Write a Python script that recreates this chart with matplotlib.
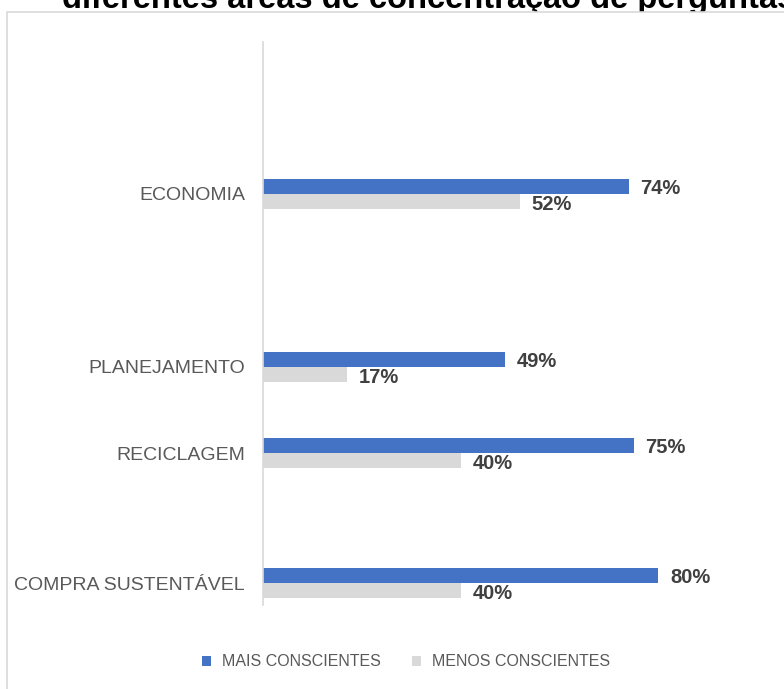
import matplotlib
matplotlib.use("Agg")
import matplotlib.pyplot as plt
from matplotlib.patches import Rectangle

# dados
categorias = ["COMPRA SUSTENTÁVEL", "RECICLAGEM", "PLANEJAMENTO", "ECONOMIA"]
posicoes = [0, 3, 5, 9]          # linhas vazias entre as categorias no original
mais = [80, 75, 49, 74]
menos = [40, 40, 17, 52]
serie_mais = "MAIS CONSCIENTES"
serie_menos = "MENOS CONSCIENTES"
titulo = "diferentes áreas de concentração de perguntas"

W, H = 784, 689
fig = plt.figure(figsize=(W / 100, H / 100), dpi=100)

def fx(px):
    return px / W

def fy(py):
    return (H - py) / H

# titulo (cortado no topo, coberto pela moldura)
fig.text(fx(62), fy(8), titulo, ha="left", va="baseline", fontsize=23.5,
         fontweight="bold", color="black", family="Liberation Sans", zorder=-2)

# moldura do grafico
fig.patches.append(Rectangle((fx(7), -0.1), 1.2, fy(12) + 0.1,
                             transform=fig.transFigure, facecolor="white",
                             edgecolor="#D9D9D9", linewidth=1.2, zorder=-1))

ax = fig.add_axes([fx(263), fy(605), fx(784 - 263), fy(42) - fy(605)])
ax.patch.set_alpha(0)

h = 0.345
ax.barh([p + h / 2 for p in posicoes], mais, height=h, color="#4472C4",
        label=serie_mais)
ax.barh([p - h / 2 for p in posicoes], menos, height=h, color="#D9D9D9",
        label=serie_menos)

for p, a, b in zip(posicoes, mais, menos):
    ax.annotate(f"{a}%", (a, p + h / 2), xytext=(12, -2), textcoords="offset pixels",
                ha="left", va="center", fontsize=14.5, fontweight="bold",
                color="#404040", family="Liberation Sans")
    ax.annotate(f"{b}%", (b, p - h / 2), xytext=(12, -3), textcoords="offset pixels",
                ha="left", va="center", fontsize=14.5, fontweight="bold",
                color="#404040", family="Liberation Sans")

ax.set_xlim(0, (784 - 263) / 4.94)
ax.set_ylim(-0.5, 12.5)
ax.set_yticks(posicoes)
ax.set_yticklabels(categorias, fontsize=14, color="#595959", family="Liberation Sans")
ax.tick_params(axis="y", length=0, pad=13)
ax.set_xticks([])
for s in ["top", "right", "bottom"]:
    ax.spines[s].set_visible(False)
ax.spines["left"].set_color("#D9D9D9")
ax.spines["left"].set_linewidth(1.2)

fig.legend(loc="center", bbox_to_anchor=(fx(406), fy(662)), ncol=2, frameon=False,
           handlelength=0.55, handleheight=0.55, handletextpad=0.65,
           columnspacing=2.0, labelcolor="#595959",
           prop={"family": "Liberation Sans", "size": 11.5})

fig.savefig("out.png", dpi=100)
